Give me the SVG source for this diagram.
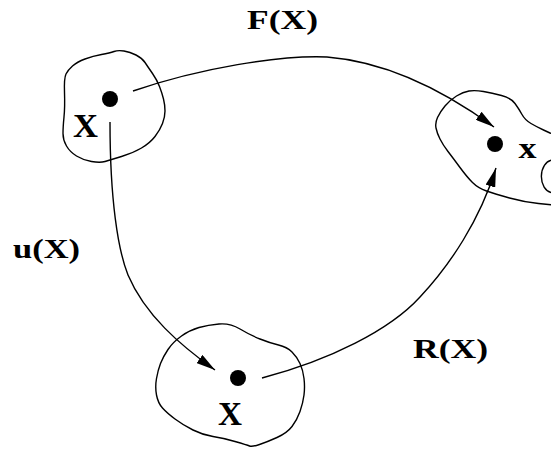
<svg xmlns="http://www.w3.org/2000/svg" width="551" height="449" viewBox="0 0 551 449">
<style>
.blob{fill:none;stroke:#000;stroke-width:1.4;stroke-linejoin:round}
.dot{fill:#000}
.edge{fill:none;stroke:#000;stroke-width:1.4}
.lbl{font-family:"Liberation Serif",serif;font-weight:bold;fill:#000}
</style>
<defs>
<marker id="ah" viewBox="0 0 19 10" refX="19" refY="5" markerWidth="19" markerHeight="10" markerUnits="userSpaceOnUse" orient="auto">
<path d="M0,0 L19,5 L0,10 Z" fill="#000"/>
</marker>
</defs>
<g id="node-ref">
<path class="blob" d="M66,74 Q68,70 72.5,66 Q77,62 85,59 Q93,56 101.5,54.5 Q110,53 114,51.5 Q118,50 124,51 Q130,52 136,55 Q142,58 145,62.5 Q148,67 152.5,73.5 Q157,80 159.5,86.5 Q162,93 163.5,99 Q165,105 165,111 Q165,117 162.5,123.5 Q160,130 155,136.5 Q150,143 141.5,148 Q133,153 121.5,156.5 Q110,160 105,161.5 Q100,163 91.5,161.5 Q83,160 76.5,156 Q70,152 66.5,146 Q63,140 63,133.5 Q63,127 64,117 Q65,107 64.5,92.5 Q64,78 66,74 Z"/>
<circle class="dot" cx="110" cy="99" r="8"/>
<text class="lbl" x="73" y="137" font-size="33" textLength="25" lengthAdjust="spacingAndGlyphs">X</text>
</g>
<g id="node-cur">
<path class="blob" d="M553,134 L550,133 L543.5,130 Q537,127 531,123.5 Q525,120 522,114.5 Q519,109 515,103.5 Q511,98 501.5,95.5 Q492,93 483.5,91.5 Q475,90 469,91 Q463,92 456.5,96 Q450,100 445,106 Q440,112 437.5,117.5 Q435,123 436,128 Q437,133 440,139 Q443,145 448,151.5 Q453,158 460,167.5 Q467,177 472.5,182.5 Q478,188 486.5,191 Q495,194 509.5,198 Q524,202 538.5,203.5 L553,205"/>
<path class="blob" d="M553,160 C538,161 537,191 553,193"/>
<circle class="dot" cx="495" cy="144" r="8"/>
<text class="lbl" x="518.5" y="158" font-size="29" textLength="18" lengthAdjust="spacingAndGlyphs">x</text>
</g>
<g id="node-int">
<path class="blob" d="M181.5,336 Q190,330 199,327.5 Q208,325 219,324 Q230,323 240,329 Q250,335 260,339 Q270,343 278.5,345 Q287,347 292,352 Q297,357 300,363.5 Q303,370 304,378.5 Q305,387 304,395 Q303,403 300,411.5 Q297,420 292,426.5 Q287,433 277,437.5 Q267,442 259.5,444.5 Q252,447 249.5,446 Q247,445 235,441.5 Q223,438 213,436.5 Q203,435 193,430 Q183,425 175,419 Q167,413 162.5,408 Q158,403 156.5,395 Q155,387 156.5,378.5 Q158,370 160.5,363.5 Q163,357 168,349.5 Q173,342 181.5,336 Z"/>
<circle class="dot" cx="238" cy="378" r="8"/>
<text class="lbl" x="218" y="425" font-size="34" textLength="24" lengthAdjust="spacingAndGlyphs">X</text>
</g>
<g id="connectors">
<path class="edge" marker-end="url(#ah)" d="M133,91 C200,68 280,55 327,57 C390,62 450,95 494,127"/>
<path class="edge" marker-end="url(#ah)" d="M110,122 C110,200 118,250 128,275 C145,315 180,345 215,370"/>
<path class="edge" marker-end="url(#ah)" d="M262,378 C330,360 390,330 420,297 C450,265 480,220 496,168"/>
<text class="lbl" x="247" y="29" font-size="27" textLength="71" lengthAdjust="spacingAndGlyphs">F(X)</text>
<text class="lbl" x="13" y="258" font-size="27" textLength="67" lengthAdjust="spacingAndGlyphs">u(X)</text>
<text class="lbl" x="413" y="358" font-size="27" textLength="75" lengthAdjust="spacingAndGlyphs">R(X)</text>
</g>
</svg>
